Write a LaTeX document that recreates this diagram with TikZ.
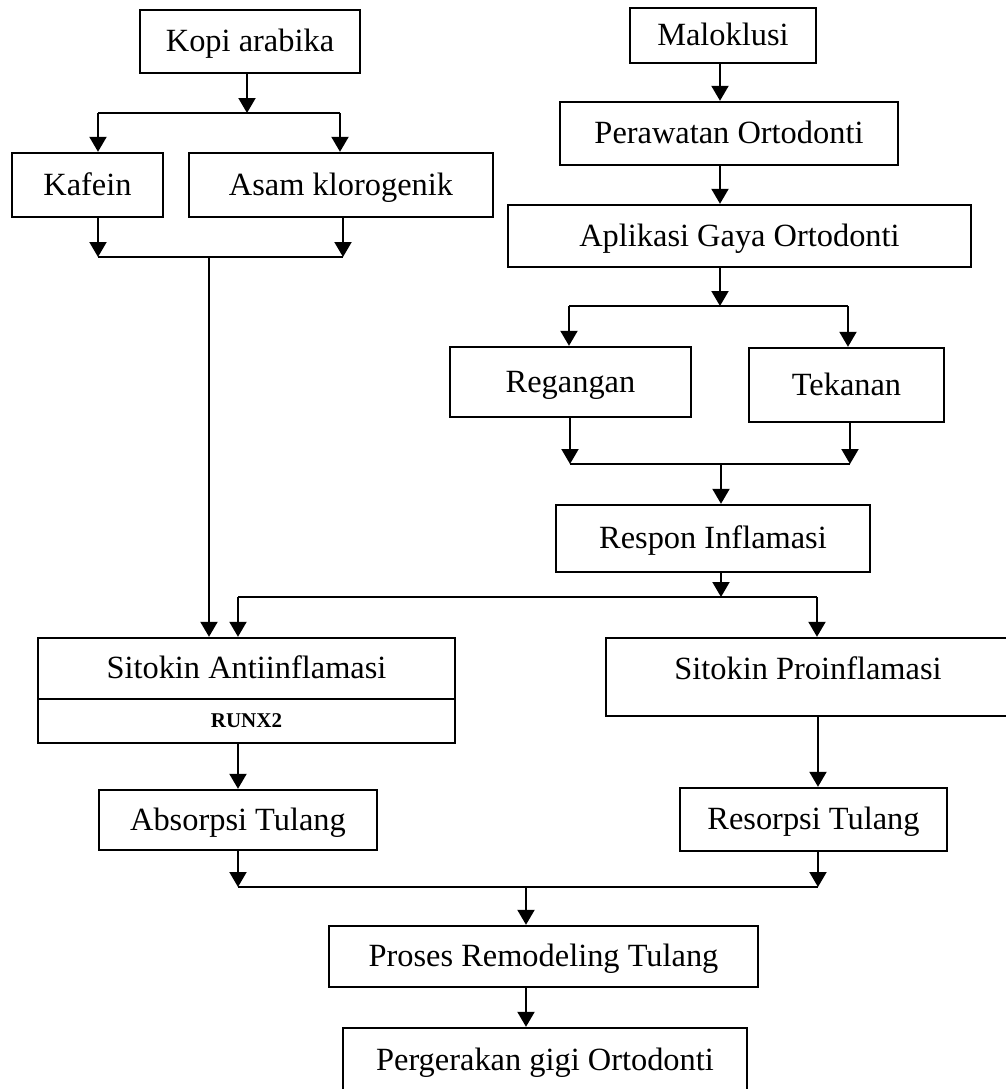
\documentclass[tikz,border=0pt]{standalone}
\usepackage{fontspec}
\setmainfont{Liberation Serif}
\usetikzlibrary{arrows.meta}

\begin{document}
\begin{tikzpicture}[x=0.5pt,y=-0.5pt,
	every node/.style={font=\fontsize{16.2}{19}\selectfont},
	box/.style={draw,line width=1.2pt,inner sep=0pt,align=center,text height=12.5pt,text depth=2.5pt},
	arr/.style={line width=1pt,-{Triangle[width=8.5pt,length=7.5pt]}},
	line/.style={line width=1pt}]
	\useasboundingbox (0,0) rectangle (1006,1089);

		\node [box,minimum width=110pt,minimum height=31.5pt] (kopi) at (250,41.5) {Kopi arabika};
		\node [box,minimum width=75.5pt,minimum height=32pt] (kafein) at (87.5,185) {Kafein};
		\node [box,minimum width=152pt,minimum height=32pt] (asam) at (341,185) {Asam klorogenik};
		\node [box,minimum width=93pt,minimum height=27.5pt] (malok) at (723,35.5) {Maloklusi};
		\node [box,minimum width=169pt,minimum height=31.5pt] (peraw) at (729,133.5) {Perawatan Ortodonti};
		\node [box,minimum width=231.5pt,minimum height=31pt] (aplik) at (739.5,236) {Aplikasi Gaya Ortodonti};
		\node [box,minimum width=120.5pt,minimum height=35pt] (regang) at (570.5,382) {Regangan};
		\node [box,minimum width=97.5pt,minimum height=37pt] (tekan) at (846.5,385) {Tekanan};
		\node [box,minimum width=157pt,minimum height=33.5pt] (respon) at (713,538.5) {Respon Inflamasi};
		\node [box,minimum width=208.5pt,minimum height=30.5pt] (anti) at (246.5,668.5) {Sitokin Antiinflamasi};
		\node [box,minimum width=208.5pt,minimum height=22pt,text height=7pt,text depth=0.5pt,font=\fontsize{10.5}{12}\selectfont\bfseries] (runx) at (246.5,721) {RUNX2};
		\node [box,minimum width=202pt,minimum height=39pt,text depth=10pt] (pro) at (808,677) {Sitokin Proinflamasi};
		\node [box,minimum width=139pt,minimum height=30pt] (absorp) at (238,820) {Absorpsi Tulang};
		\node [box,minimum width=133.5pt,minimum height=31.5pt] (resorp) at (813.5,819.5) {Resorpsi Tulang};
		\node [box,minimum width=214.5pt,minimum height=30.5pt] (proses) at (543.5,956.5) {Proses Remodeling Tulang};
		\node [box,minimum width=202pt,minimum height=32pt] (gerak) at (545,1060) {Pergerakan gigi Ortodonti};

		\coordinate (ka) at (247,113);
		\coordinate (kl) at (98,113);
		\coordinate (kr) at (340,113);
		\coordinate (kb) at (209,257);
		\coordinate (kbl) at (98,257);
		\coordinate (kbr) at (343,257);
		\draw [arr] (kopi.south -| ka) -- (ka);
		\draw [line] (kl) -- (kr);
		\draw [arr] (kl) -- (kl |- kafein.north);
		\draw [arr] (kr) -- (kr |- asam.north);
		\draw [arr] (kafein.south -| kbl) -- (kbl);
		\draw [arr] (asam.south -| kbr) -- (kbr);
		\draw [line] (kbl) -- (kbr);
		\draw [arr] (kb) -- (kb |- anti.north);

		\coordinate (ra) at (720,306);
		\coordinate (rl) at (569,306);
		\coordinate (rr) at (848,306);
		\coordinate (rb) at (721,464);
		\coordinate (rbl) at (570,464);
		\coordinate (rbr) at (850,464);
		\draw [arr] (malok.south -| ra) -- (ra |- peraw.north);
		\draw [arr] (peraw.south -| ra) -- (ra |- aplik.north);
		\draw [arr] (aplik.south -| ra) -- (ra);
		\draw [line] (rl) -- (rr);
		\draw [arr] (rl) -- (rl |- regang.north);
		\draw [arr] (rr) -- (rr |- tekan.north);
		\draw [arr] (regang.south -| rbl) -- (rbl);
		\draw [arr] (tekan.south -| rbr) -- (rbr);
		\draw [line] (rbl) -- (rbr);
		\draw [arr] (rb) -- (rb |- respon.north);

		\coordinate (sa) at (721,597);
		\coordinate (sl) at (238,597);
		\coordinate (sr) at (817,597);
		\draw [arr] (respon.south -| sa) -- (sa);
		\draw [line] (sl) -- (sr);
		\draw [arr] (sl) -- (sl |- anti.north);
		\draw [arr] (sr) -- (sr |- pro.north);

		\coordinate (tl) at (238,887);
		\coordinate (tr) at (818,887);
		\coordinate (tm) at (526,887);
		\draw [arr] (runx.south -| tl) -- (tl |- absorp.north);
		\draw [arr] (pro.south -| tr) -- (tr |- resorp.north);
		\draw [arr] (absorp.south -| tl) -- (tl);
		\draw [arr] (resorp.south -| tr) -- (tr);
		\draw [line] (tl) -- (tr);
		\draw [arr] (tm) -- (tm |- proses.north);
		\draw [arr] (proses.south -| tm) -- (tm |- gerak.north);
\end{tikzpicture}
\end{document}
